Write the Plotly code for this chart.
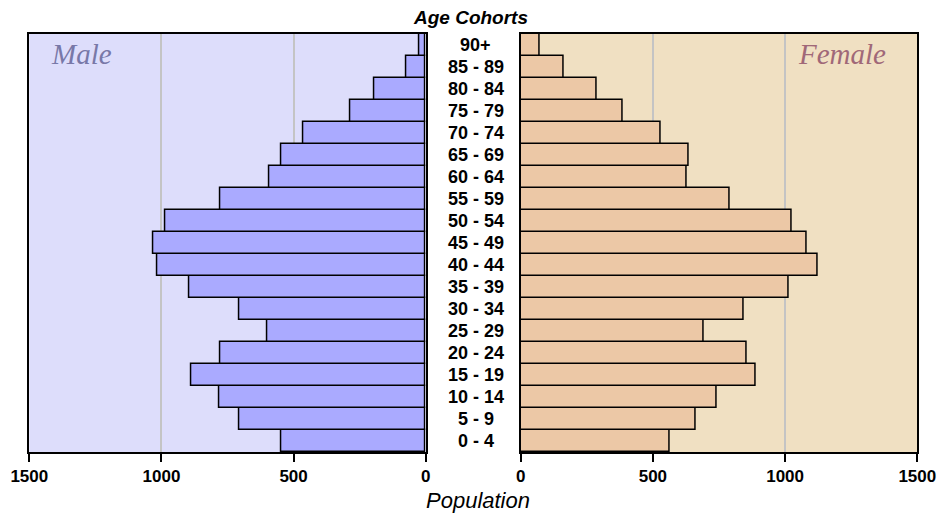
import plotly.graph_objects as go

ages = ["0 - 4", "5 - 9", "10 - 14", "15 - 19", "20 - 24", "25 - 29", "30 - 34",
        "35 - 39", "40 - 44", "45 - 49", "50 - 54", "55 - 59", "60 - 64", "65 - 69",
        "70 - 74", "75 - 79", "80 - 84", "85 - 89", "90+"]
male = [547, 705, 781, 887, 776, 599, 705, 894, 1017, 1030, 984, 776, 592, 547, 463, 286, 195, 72, 25]
female = [562, 660, 743, 887, 854, 692, 843, 1012, 1122, 1082, 1024, 790, 626, 634, 528, 384, 287, 164, 72]
ticks = [0, 500, 1000, 1500]

W, H = 938, 513


def px(x):
    return x / W


def py(y):
    return 1 - y / H


SANS = "Liberation Sans, Arial, sans-serif"
SERIF = "Liberation Serif, Times New Roman, serif"
TICKFONT = dict(family=SANS, size=17, color="black", weight="bold")

fig = go.Figure()
fig.add_trace(go.Bar(y=ages, x=male, orientation="h", xaxis="x", yaxis="y",
                     marker=dict(color="#AAAAFF", line=dict(color="black", width=1.5)),
                     showlegend=False, hoverinfo="x+y"))
fig.add_trace(go.Bar(y=ages, x=female, orientation="h", xaxis="x2", yaxis="y2",
                     marker=dict(color="#ECC8A6", line=dict(color="black", width=1.5)),
                     showlegend=False, hoverinfo="x+y"))

xcommon = dict(tickvals=ticks, ticktext=[str(t) for t in ticks], showgrid=True,
               gridcolor="#C4C4C4", gridwidth=1.5, zeroline=False, showline=True,
               mirror=True, linecolor="black", linewidth=1.5, ticks="outside",
               ticklen=8, tickwidth=1.5, tickcolor="black", tickfont=TICKFONT,
               automargin=False, fixedrange=True)
ycommon = dict(range=[-0.5, 18.5], showticklabels=False, showgrid=False, zeroline=False,
               showline=True, mirror=True, linecolor="black", linewidth=1.5, ticks="",
               domain=[py(452), py(34)], automargin=False, fixedrange=True)

fig.update_layout(
    width=W, height=H, margin=dict(l=0, r=0, t=0, b=0, pad=0), autosize=False,
    paper_bgcolor="white", plot_bgcolor="rgba(0,0,0,0)", bargap=0,
    xaxis=dict(domain=[px(29.3), px(425.7)], range=[1500, 0], anchor="y", **xcommon),
    xaxis2=dict(domain=[px(520.7), px(917.3)], range=[0, 1500], anchor="y2", **xcommon),
    yaxis=dict(anchor="x", **ycommon),
    yaxis2=dict(anchor="x2", matches="y", **ycommon),
    shapes=[
        dict(type="rect", xref="x domain", yref="y domain", x0=0, x1=1, y0=0, y1=1,
             fillcolor="#DDDDFB", line=dict(width=0), layer="below"),
        dict(type="rect", xref="x2 domain", yref="y2 domain", x0=0, x1=1, y0=0, y1=1,
             fillcolor="#F0E0C2", line=dict(width=0), layer="below"),
    ],
)

annotations = []
for a in ages:
    annotations.append(dict(x=px(475.5), xref="paper", y=a, yref="y", text=a,
                            showarrow=False, xanchor="center", yanchor="middle",
                            font=dict(family=SANS, size=18, color="black", weight="bold")))
annotations += [
    dict(x=px(470), y=py(17), xref="paper", yref="paper", text="<b><i>Age Cohorts</i></b>",
         showarrow=False, xanchor="center", yanchor="middle",
         font=dict(family=SANS, size=19, color="black")),
    dict(x=px(478), y=py(500), xref="paper", yref="paper", text="<i>Population</i>",
         showarrow=False, xanchor="center", yanchor="middle",
         font=dict(family=SANS, size=22, color="black")),
    dict(x=px(49), y=py(54), xref="paper", yref="paper", text="<i>Male</i>",
         showarrow=False, xanchor="left", yanchor="middle",
         font=dict(family=SERIF, size=29, color="#7878A8")),
    dict(x=px(888), y=py(54), xref="paper", yref="paper", text="<i>Female</i>",
         showarrow=False, xanchor="right", yanchor="middle",
         font=dict(family=SERIF, size=29, color="#A06878")),
]
fig.update_layout(annotations=annotations)

fig.write_html(
    "out.html",
    config={"displayModeBar": False},
    post_script="document.body.style.margin='0';document.body.style.overflow='hidden';",
)
